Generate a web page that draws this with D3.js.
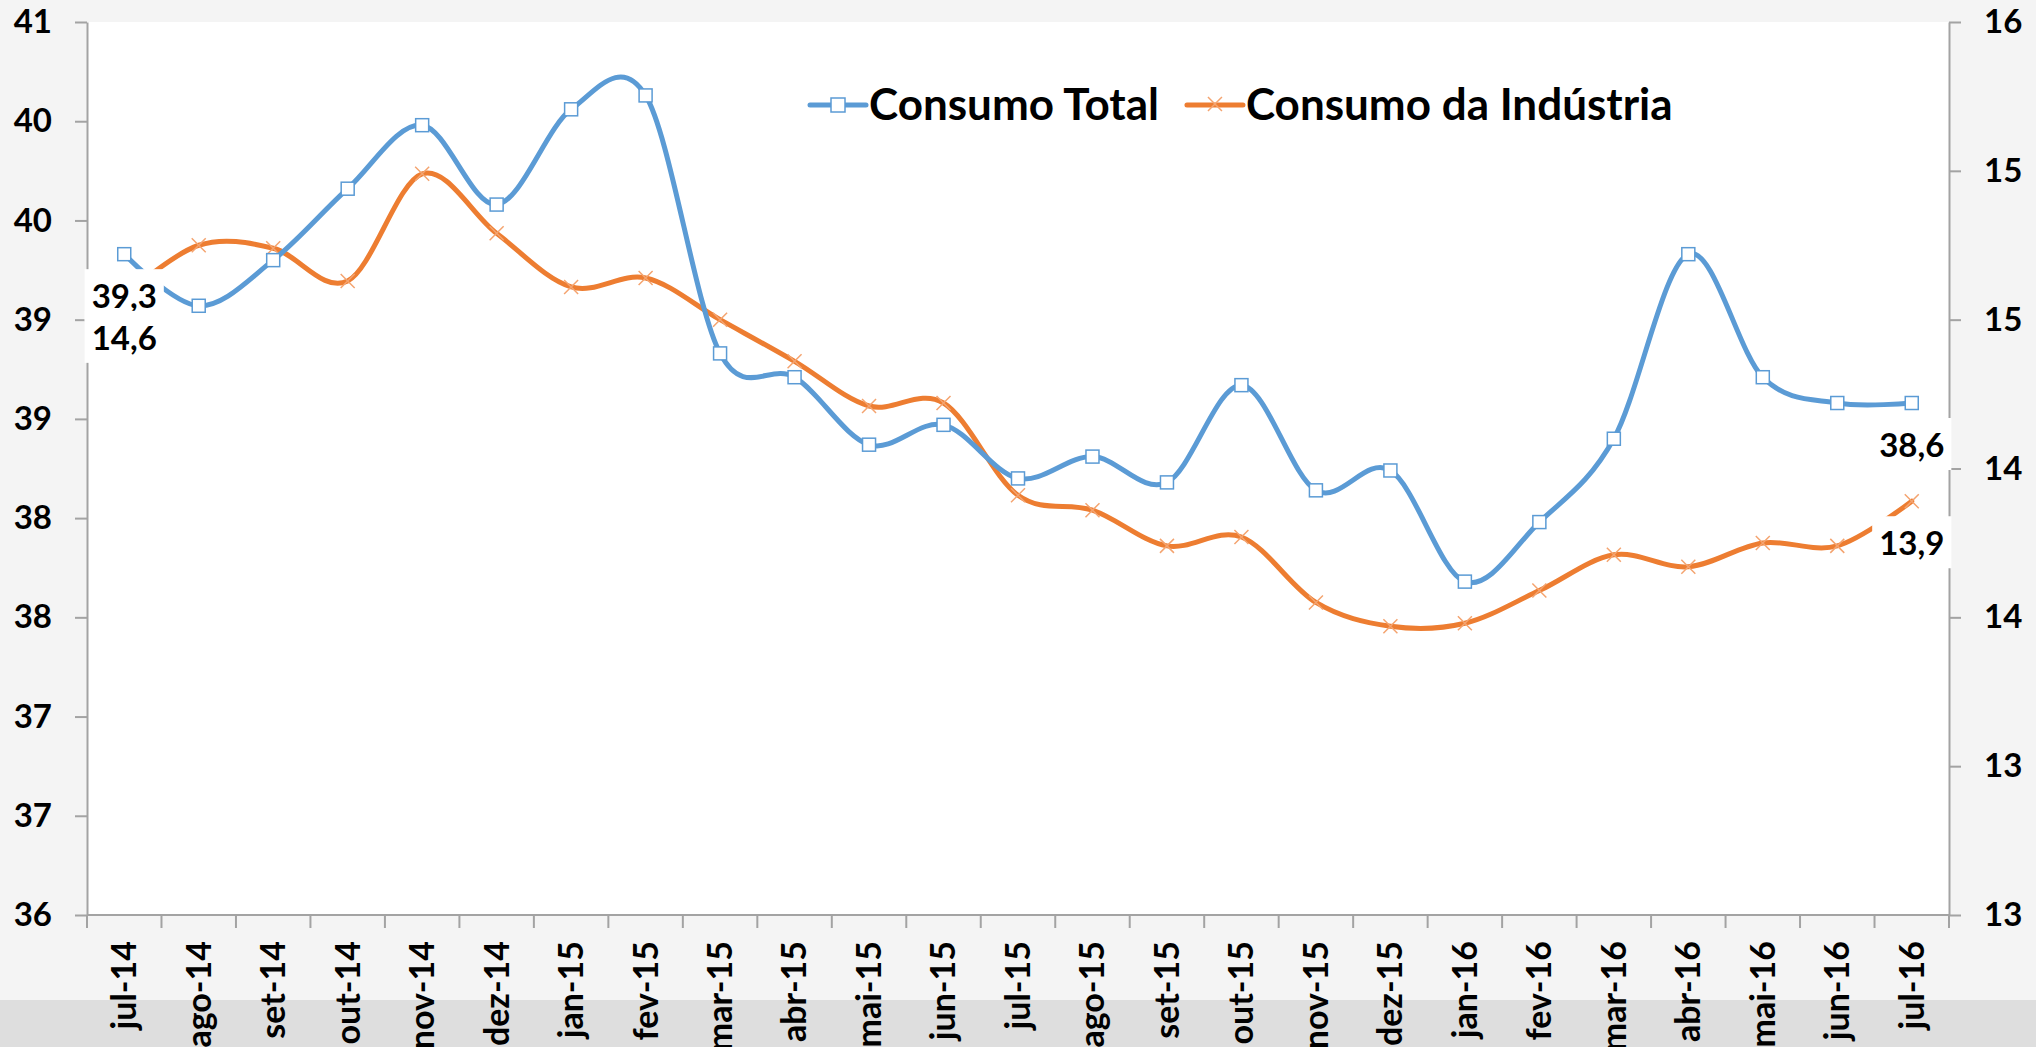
<!DOCTYPE html>
<html>
<head>
<meta charset="utf-8">
<script src="https://cdn.jsdelivr.net/npm/d3@7"></script>
<style>
  body { margin: 0; background: #f4f4f4; }
  svg { display: block; font-family: Lato, sans-serif; font-weight: 700; }
</style>
</head>
<body>
<svg id="graphContainer" width="2036" height="1047"></svg>
<script>
let months = ["jul-14", "ago-14", "set-14", "out-14", "nov-14", "dez-14", "jan-15", "fev-15",
  "mar-15", "abr-15", "mai-15", "jun-15", "jul-15", "ago-15", "set-15", "out-15", "nov-15",
  "dez-15", "jan-16", "fev-16", "mar-16", "abr-16", "mai-16", "jun-16", "jul-16"];

// left axis series
let consumoTotal = [39.33, 39.07, 39.30, 39.66, 39.98, 39.58, 40.06, 40.13,
  38.83, 38.71, 38.37, 38.47, 38.20, 38.31, 38.18, 38.67, 38.14,
  38.24, 37.68, 37.98, 38.40, 39.33, 38.71, 38.58, 38.58];

// right axis series
let consumoIndustria = [14.58, 14.75, 14.74, 14.63, 14.99, 14.79, 14.61, 14.64,
  14.50, 14.36, 14.21, 14.22, 13.91, 13.86, 13.74, 13.77, 13.55,
  13.47, 13.48, 13.59, 13.71, 13.67, 13.75, 13.74, 13.89];

let leftTicks = [36, 36.5, 37, 37.5, 38, 38.5, 39, 39.5, 40, 40.5];
let rightTicks = [12.5, 13, 13.5, 14, 14.5, 15, 15.5];

let seriesNames = ["Consumo Total", "Consumo da Indústria"];
let labelIdx = [0, months.length - 1];   // points with data labels

let W = 2036, H = 1047;
let margin = {top: 22, right: 87, bottom: 132, left: 87},
    width = W - margin.left - margin.right,
    height = H - margin.top - margin.bottom;

let blue = "#5b9bd5", orange = "#ed7d31", axisColor = "#a3a3a3";

let root = d3.select("#graphContainer");

// background bits
root.append("rect").attr("width", W).attr("height", H).attr("fill", "#f4f4f4");
root.append("rect").attr("y", 1000).attr("width", W).attr("height", H - 1000).attr("fill", "#dedede");

let svg = root.append("g")
  .attr("transform", "translate(" + margin.left + "," + margin.top + ")");

svg.append("rect").attr("width", width).attr("height", height).attr("fill", "#fff");

// scales
let x = d3.scaleBand().domain(months).range([0, width]).padding(0);
let cx = function(d) { return x(d) + x.bandwidth() / 2; };

let yL = d3.scaleLinear().domain([36, 40.5]).range([height, 0]);
let yR = d3.scaleLinear().domain([12.5, 15.5]).range([height, 0]);

// y axes
let fmtTick = function(d) { return Math.round(d); };

let gl = svg.append("g")
  .call(d3.axisLeft(yL).tickValues(leftTicks).tickFormat(fmtTick)
    .tickSize(12).tickSizeOuter(0).tickPadding(23));
let gr = svg.append("g")
  .attr("transform", "translate(" + width + ",0)")
  .call(d3.axisRight(yR).tickValues(rightTicks).tickFormat(fmtTick)
    .tickSize(12).tickSizeOuter(0).tickPadding(23));

[gl, gr].forEach(function(g) {
  g.select(".domain").attr("stroke", axisColor).attr("stroke-width", 2);
  g.selectAll(".tick line").attr("stroke", axisColor).attr("stroke-width", 2);
  g.selectAll(".tick text").attr("fill", "#000")
    .style("font-size", "33px").style("font-family", "Lato, sans-serif").style("font-weight", 700);
});

// x axis: line, ticks at category boundaries, rotated labels
let gx = svg.append("g").attr("transform", "translate(0," + height + ")");
gx.append("line").attr("x1", 0).attr("x2", width)
  .attr("stroke", axisColor).attr("stroke-width", 2);
gx.selectAll(".bnd")
  .data(months.map(function(d) { return x(d); }).concat([width]))
  .enter().append("line")
    .attr("x1", function(d) { return d; })
    .attr("x2", function(d) { return d; })
    .attr("y1", 0).attr("y2", 13)
    .attr("stroke", axisColor).attr("stroke-width", 2);
gx.selectAll(".lbl")
  .data(months)
  .enter().append("text")
    .attr("transform", function(d) { return "translate(" + cx(d) + ",26) rotate(-90)"; })
    .attr("text-anchor", "end")
    .attr("dy", "0.35em")
    .style("font-size", "34px")
    .attr("fill", "#000")
    .text(function(d) { return d; });

// lines
let lineL = d3.line()
  .x(function(d, i) { return cx(months[i]); })
  .y(function(d) { return yL(d); })
  .curve(d3.curveCardinal.tension(0));
let lineR = d3.line()
  .x(function(d, i) { return cx(months[i]); })
  .y(function(d) { return yR(d); })
  .curve(d3.curveCardinal.tension(0));

svg.append("path").datum(consumoIndustria)
  .attr("d", lineR).attr("fill", "none")
  .attr("stroke", orange).attr("stroke-width", 5).attr("stroke-linecap", "round");

svg.selectAll(".xm")
  .data(consumoIndustria)
  .enter().append("path")
    .attr("transform", function(d, i) { return "translate(" + cx(months[i]) + "," + yR(d) + ")"; })
    .attr("d", "M-7,-7L7,7M-7,7L7,-7")
    .attr("stroke", "#f4a470").attr("stroke-width", 1.5);

svg.append("path").datum(consumoTotal)
  .attr("d", lineL).attr("fill", "none")
  .attr("stroke", blue).attr("stroke-width", 5).attr("stroke-linecap", "round");

svg.selectAll(".sq")
  .data(consumoTotal)
  .enter().append("rect")
    .attr("x", function(d, i) { return cx(months[i]) - 6.5; })
    .attr("y", function(d) { return yL(d) - 6.5; })
    .attr("width", 13).attr("height", 13)
    .attr("fill", "#fff").attr("stroke", blue).attr("stroke-width", 1.5);

// data labels, below the point, with white boxes
let fmtLabel = function(v) { return d3.format(".1f")(v).replace(".", ","); };
let labels = [];
labelIdx.forEach(function(i) {
  labels.push({x: cx(months[i]), y: yL(consumoTotal[i]) + 54, t: fmtLabel(consumoTotal[i])});
  labels.push({x: cx(months[i]), y: yR(consumoIndustria[i]) + 54, t: fmtLabel(consumoIndustria[i])});
});

let lg = svg.append("g");
labels.forEach(function(l) {
  let g = lg.append("g");
  let bg = g.append("rect").attr("fill", "#fff");
  let t = g.append("text")
    .attr("x", l.x).attr("y", l.y)
    .attr("text-anchor", "middle")
    .style("font-size", "33px")
    .attr("fill", "#000")
    .text(l.t);
  let b = t.node().getBBox();
  bg.attr("x", b.x - 7).attr("y", b.y - 6).attr("width", b.width + 14).attr("height", b.height + 12);
});

// legend
let leg = root.append("g").attr("transform", "translate(810,105)");
let lx = 0;
seriesNames.forEach(function(name, k) {
  let col = k === 0 ? blue : orange;
  let item = leg.append("g").attr("transform", "translate(" + lx + ",0)");
  item.append("line").attr("x1", 0).attr("x2", 56)
    .attr("stroke", col).attr("stroke-width", 5).attr("stroke-linecap", "round");
  if (k === 0) {
    item.append("rect").attr("x", 21).attr("y", -7).attr("width", 14).attr("height", 14)
      .attr("fill", "#fff").attr("stroke", blue).attr("stroke-width", 1.5);
  } else {
    item.append("path").attr("d", "M21,-8L35,6M21,6L35,-8")
      .attr("stroke", "#f4a470").attr("stroke-width", 1.5);
  }
  let t = item.append("text").attr("x", 59).attr("y", 15)
    .style("font-size", "44px").attr("fill", "#000").text(name);
  lx += 59 + t.node().getComputedTextLength() + 28;
});
</script>
</body>
</html>
